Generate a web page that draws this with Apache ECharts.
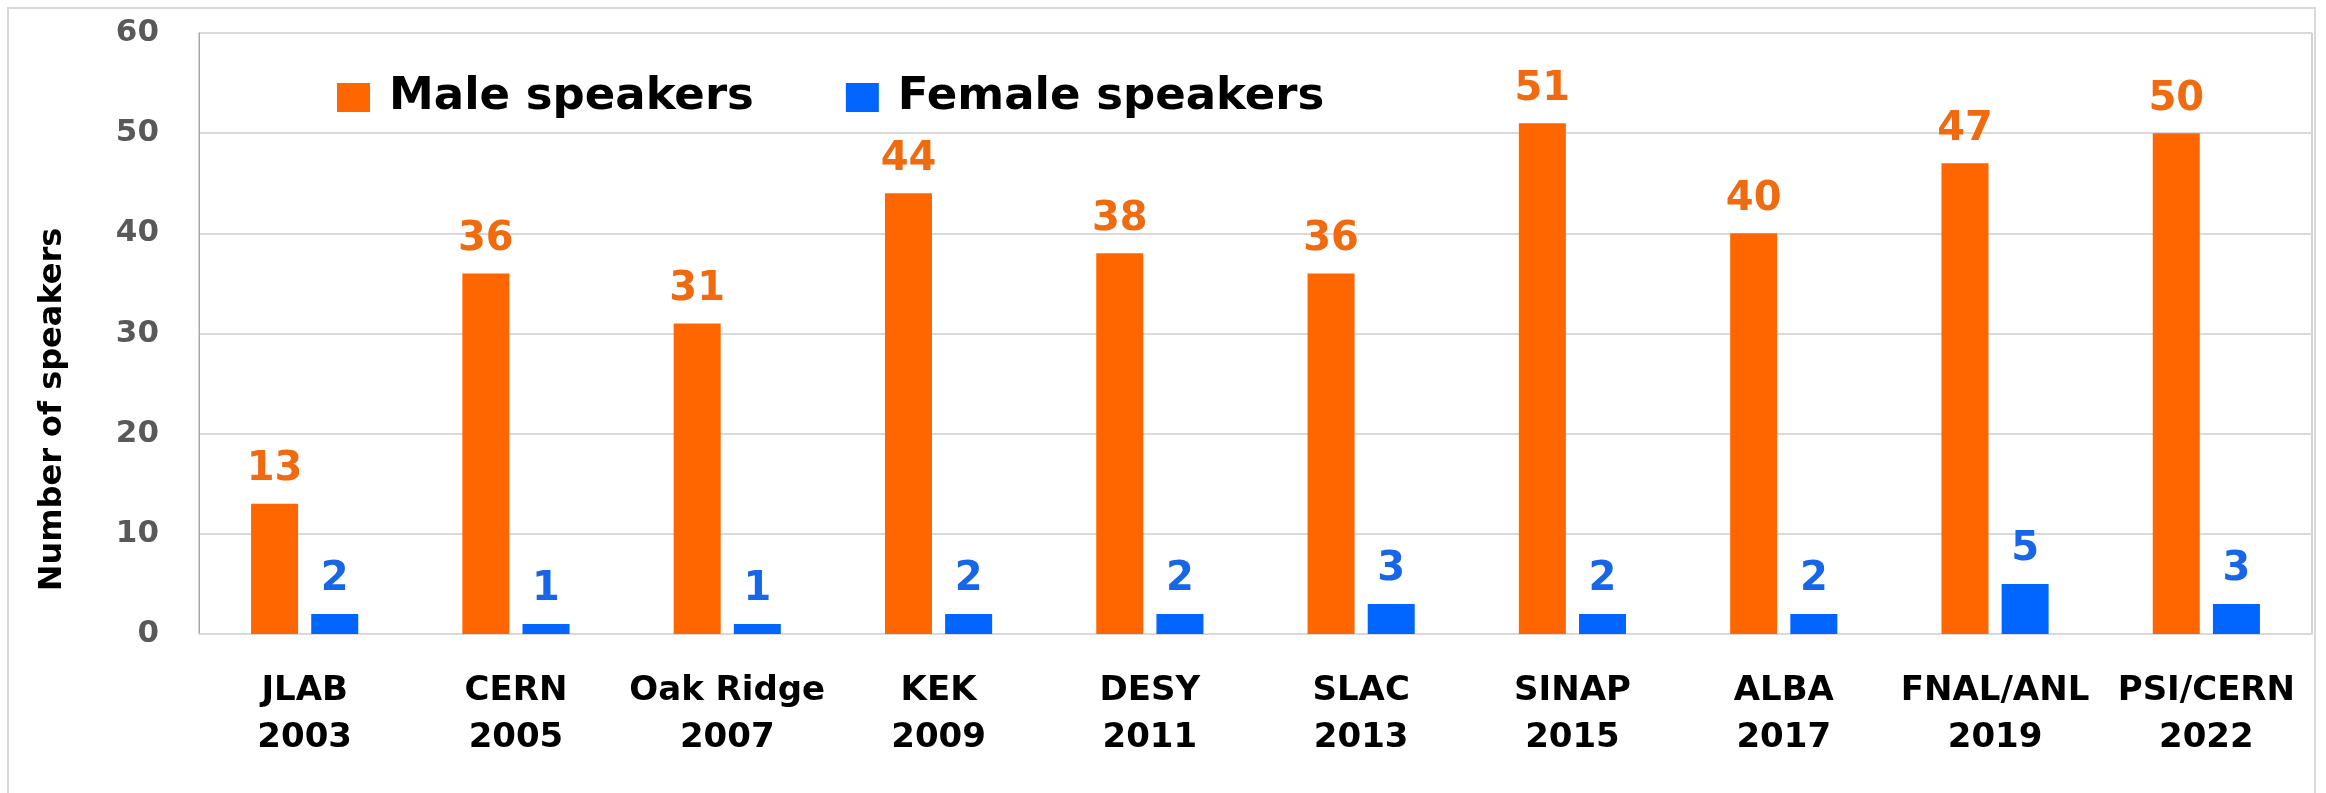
<!DOCTYPE html>
<html>
<head>
<meta charset="utf-8">
<script src="https://cdn.jsdelivr.net/npm/echarts@6/dist/echarts.min.js"></script>
<style>
html,body{margin:0;padding:0;background:#fff;}
#chart{width:2326px;height:793px;}
</style>
</head>
<body>
<div id="chart"></div>
<script>
const sites = ['JLAB', 'CERN', 'Oak Ridge', 'KEK', 'DESY', 'SLAC', 'SINAP', 'ALBA', 'FNAL/ANL', 'PSI/CERN'];
const years = ['2003', '2005', '2007', '2009', '2011', '2013', '2015', '2017', '2019', '2022'];
const maleSpeakers = [13, 36, 31, 44, 38, 36, 51, 40, 47, 50];
const femaleSpeakers = [2, 1, 1, 2, 2, 3, 2, 2, 5, 3];
const yTicks = [0, 10, 20, 30, 40, 50, 60];

const categories = sites.map((s, i) => s + '\n' + years[i]);
const FONT = 'DejaVu Sans';

const chart = echarts.init(document.getElementById('chart'));
chart.setOption({
  backgroundColor: '#ffffff',
  animation: false,
  graphic: [{
    type: 'rect',
    shape: { x: 8, y: 8, width: 2307, height: 800 },
    style: { fill: 'none', stroke: '#d9d9d9', lineWidth: 2 },
    z: -10
  }],
  legend: {
    left: 332,
    top: 70,
    itemWidth: 33,
    itemHeight: 29,
    itemGap: 92,
    icon: 'rect',
    textStyle: { fontFamily: FONT, fontWeight: 'bold', fontSize: 45, color: '#000', padding: [0, 0, 0, 14] },
    data: ['Male speakers', 'Female speakers']
  },
  grid: {
    left: 199, right: 14, top: 33, bottom: 159,
    show: true, borderColor: '#a6a6a6', borderWidth: 1
  },
  xAxis: {
    type: 'category',
    data: categories,
    axisLine: { show: true, lineStyle: { color: '#d9d9d9', width: 2 } },
    axisTick: { show: false },
    axisLabel: {
      interval: 0, margin: 34,
      fontFamily: FONT, fontWeight: 'bold', fontSize: 34, lineHeight: 47, color: '#000'
    }
  },
  yAxis: {
    type: 'value',
    min: yTicks[0], max: yTicks[yTicks.length - 1], interval: 10,
    name: 'Number of speakers',
    nameLocation: 'middle',
    nameGap: 130,
    nameRotate: 90,
    nameTextStyle: { fontFamily: FONT, fontWeight: 'bold', fontSize: 32, color: '#000', padding: [0, 152, 0, 0] },
    axisLine: { show: true, lineStyle: { color: '#a6a6a6' } },
    axisTick: { show: false },
    splitLine: { lineStyle: { color: '#d9d9d9', width: 2 } },
    axisLabel: { margin: 40, fontFamily: FONT, fontWeight: 'bold', fontSize: 31, color: '#595959' }
  },
  series: [
    {
      name: 'Male speakers',
      type: 'bar',
      data: maleSpeakers,
      barWidth: 47,
      barGap: '28%',
      itemStyle: { color: '#FF6600' },
      label: { show: true, position: 'top', distance: 14, fontFamily: FONT, fontWeight: 'bold', fontSize: 40, color: '#F06A10' }
    },
    {
      name: 'Female speakers',
      type: 'bar',
      data: femaleSpeakers,
      barWidth: 47,
      barGap: '28%',
      itemStyle: { color: '#0066FF' },
      label: { show: true, position: 'top', distance: 14, fontFamily: FONT, fontWeight: 'bold', fontSize: 40, color: '#1766E8' }
    }
  ]
});
</script>
</body>
</html>
